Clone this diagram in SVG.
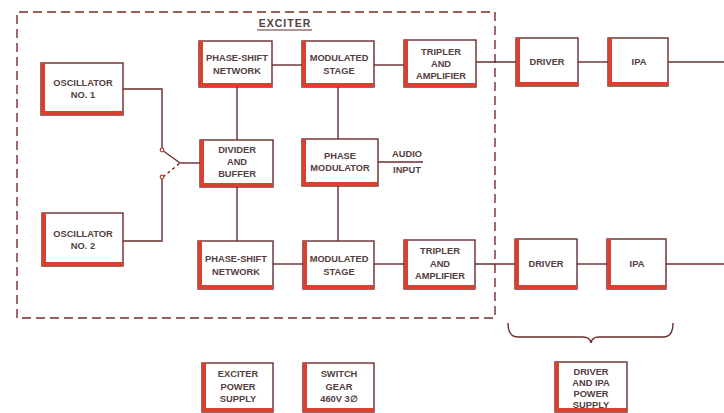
<svg xmlns="http://www.w3.org/2000/svg" width="724" height="413" viewBox="0 0 724 413">
<style>
  .box{fill:#fff;stroke:#6a2c2c;stroke-width:1.4}
  .red{fill:none;stroke:#d9402e;stroke-width:4;stroke-linecap:butt}
  .wire{fill:none;stroke:#6a2c2c;stroke-width:1.4}
  .dash{fill:none;stroke:#7a2a2a;stroke-width:1.4;stroke-dasharray:9,5}
  text{font-family:"Liberation Sans",Arial,sans-serif;font-size:9.3px;font-weight:bold;fill:#544040;text-anchor:middle}
  .title{font-size:10.5px;letter-spacing:1px}
  .dot{fill:#fff;stroke:#b8443a;stroke-width:1.2}
</style>
<rect width="724" height="413" fill="#fff"/>

<!-- Exciter boundary -->
<g id="exciter-boundary">
  <path class="dash" d="M17,318 V12 H495 V318 Z"/>
  <text class="title" x="285" y="27">EXCITER</text>
  <line x1="257" y1="30" x2="312" y2="30" stroke="#6a2c2c" stroke-width="1"/>
</g>

<g id="connectors">
  <!-- oscillators to switch -->
  <polyline class="wire" points="123,89 162,89 162,148"/>
  <polyline class="wire" points="123,241 162,241 162,179"/>
  <line class="wire" x1="162" y1="150" x2="180" y2="163"/>
  <line class="wire" x1="163" y1="177" x2="180" y2="163" stroke-dasharray="3,3"/>
  <line class="wire" x1="180" y1="163" x2="200" y2="163"/>
  <circle class="dot" cx="162" cy="150" r="1.8"/>
  <circle class="dot" cx="162" cy="177" r="1.8"/>
  <!-- verticals -->
  <line class="wire" x1="237" y1="87" x2="237" y2="140"/>
  <line class="wire" x1="237" y1="187" x2="237" y2="241"/>
  <line class="wire" x1="338" y1="87" x2="338" y2="139"/>
  <line class="wire" x1="338" y1="186" x2="338" y2="241"/>
  <!-- top chain -->
  <line class="wire" x1="272" y1="65" x2="302" y2="65"/>
  <line class="wire" x1="374" y1="65" x2="404" y2="65"/>
  <line class="wire" x1="476" y1="62" x2="516" y2="62"/>
  <line class="wire" x1="578" y1="62" x2="608" y2="62"/>
  <line class="wire" x1="668" y1="62" x2="724" y2="62"/>
  <!-- bottom chain -->
  <line class="wire" x1="273" y1="264" x2="303" y2="264"/>
  <line class="wire" x1="374" y1="264" x2="404" y2="264"/>
  <line class="wire" x1="475" y1="264" x2="515" y2="264"/>
  <line class="wire" x1="577" y1="264" x2="607" y2="264"/>
  <line class="wire" x1="666" y1="264" x2="724" y2="264"/>
  <!-- audio input -->
  <line class="wire" x1="378" y1="162" x2="423" y2="162"/>
  <!-- brace -->
  <path class="wire" d="M508,323 Q508,337 518,337 H583 Q590,337 591,343 Q592,337 599,337 H663 Q673,337 673,323"/>
</g>
<text x="407" y="157">AUDIO</text>
<text x="407" y="173">INPUT</text>

<g id="osc1">
  <rect class="box" x="41" y="63" width="82" height="52"/>
  <path class="red" d="M43,63 V113 H123"/>
  <text x="83" y="86">OSCILLATOR</text>
  <text x="83" y="98">NO. 1</text>
</g>
<g id="osc2">
  <rect class="box" x="42" y="213" width="81" height="53"/>
  <path class="red" d="M44,213 V264 H123"/>
  <text x="83" y="237">OSCILLATOR</text>
  <text x="83" y="249">NO. 2</text>
</g>

<g id="psn1">
  <rect class="box" x="199" y="41" width="73" height="46"/>
  <path class="red" d="M201,41 V85 H272"/>
  <text x="237" y="61">PHASE-SHIFT</text>
  <text x="237" y="74">NETWORK</text>
</g>
<g id="ms1">
  <rect class="box" x="302" y="41" width="72" height="46"/>
  <path class="red" d="M304,41 V85 H374"/>
  <text x="339" y="61">MODULATED</text>
  <text x="339" y="74">STAGE</text>
</g>
<g id="trip1">
  <rect class="box" x="404" y="40" width="72" height="47"/>
  <path class="red" d="M406,40 V85 H476"/>
  <text x="441" y="55">TRIPLER</text>
  <text x="441" y="67">AND</text>
  <text x="441" y="79">AMPLIFIER</text>
</g>
<g id="drv1">
  <rect class="box" x="516" y="38" width="62" height="48"/>
  <path class="red" d="M518,38 V84 H578"/>
  <text x="547" y="65">DRIVER</text>
</g>
<g id="ipa1">
  <rect class="box" x="608" y="38" width="60" height="48"/>
  <path class="red" d="M610,38 V84 H668"/>
  <text x="639" y="65">IPA</text>
</g>

<g id="div">
  <rect class="box" x="200" y="140" width="73" height="47"/>
  <path class="red" d="M202,140 V185 H273"/>
  <text x="237" y="153">DIVIDER</text>
  <text x="237" y="165">AND</text>
  <text x="237" y="177">BUFFER</text>
</g>
<g id="pm">
  <rect class="box" x="302" y="139" width="76" height="47"/>
  <path class="red" d="M304,139 V184 H378"/>
  <text x="340" y="159">PHASE</text>
  <text x="340" y="171">MODULATOR</text>
</g>

<g id="psn2">
  <rect class="box" x="198" y="241" width="75" height="48"/>
  <path class="red" d="M200,241 V287 H273"/>
  <text x="236" y="262">PHASE-SHIFT</text>
  <text x="236" y="275">NETWORK</text>
</g>
<g id="ms2">
  <rect class="box" x="303" y="241" width="71" height="48"/>
  <path class="red" d="M305,241 V287 H374"/>
  <text x="339" y="262">MODULATED</text>
  <text x="339" y="275">STAGE</text>
</g>
<g id="trip2">
  <rect class="box" x="404" y="240" width="71" height="49"/>
  <path class="red" d="M406,240 V287 H475"/>
  <text x="440" y="254">TRIPLER</text>
  <text x="440" y="267">AND</text>
  <text x="440" y="279">AMPLIFIER</text>
</g>
<g id="drv2">
  <rect class="box" x="515" y="239" width="62" height="50"/>
  <path class="red" d="M517,239 V287 H577"/>
  <text x="546" y="267">DRIVER</text>
</g>
<g id="ipa2">
  <rect class="box" x="607" y="239" width="59" height="50"/>
  <path class="red" d="M609,239 V287 H666"/>
  <text x="637" y="267">IPA</text>
</g>

<g id="exps">
  <rect class="box" x="202" y="363" width="71" height="49"/>
  <path class="red" d="M204,363 V410 H273"/>
  <text x="238" y="377">EXCITER</text>
  <text x="238" y="390">POWER</text>
  <text x="238" y="402">SUPPLY</text>
</g>
<g id="swgear">
  <rect class="box" x="303" y="363" width="71" height="49"/>
  <path class="red" d="M305,363 V410 H374"/>
  <text x="339" y="377">SWITCH</text>
  <text x="339" y="390">GEAR</text>
  <text x="339" y="402">460V  3∅</text>
</g>
<g id="drvps">
  <rect class="box" x="555" y="362" width="72" height="50"/>
  <path class="red" d="M557,362 V410 H627"/>
  <text x="591" y="375">DRIVER</text>
  <text x="591" y="386">AND IPA</text>
  <text x="591" y="397">POWER</text>
  <text x="591" y="408">SUPPLY</text>
</g>
</svg>
